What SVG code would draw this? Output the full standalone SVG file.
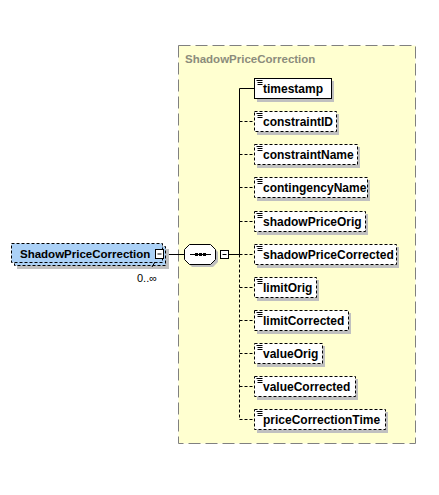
<svg xmlns="http://www.w3.org/2000/svg" width="439" height="495" viewBox="0 0 439 495">
<style>
text{font-family:"Liberation Sans",Arial,sans-serif;}
.lbl{font-size:12px;font-weight:bold;fill:#000;}
.main{font-size:11.5px;font-weight:bold;fill:#000;}
.ttl{font-size:11.5px;font-weight:bold;fill:#8c8c7c;}
.el{fill:#fff;stroke:#000;stroke-width:1;}
.opt{stroke-dasharray:3,2;}
.sh{fill:#c0c0c0;}
.ln{stroke:#000;stroke-width:1;fill:none;}
.dl{stroke:#000;stroke-width:1;fill:none;stroke-dasharray:3,2;}
.ic{stroke:#000;stroke-width:1;}
</style>
<defs>
<g id="icon"><rect x="0" y="0" width="8" height="7" fill="#fff"/><path d="M1.5 1.5h6M2.5 3.5h5M2.5 5.5h5" class="ic"/></g>
</defs>
<rect width="439" height="495" fill="#fff"/>
<g id="complexType">
<rect x="178.5" y="45.5" width="237" height="398" fill="#ffffd0" stroke="#808080" stroke-dasharray="12,5"/>
<text class="ttl" x="185" y="63">ShadowPriceCorrection</text>
</g>
<g id="connectors">
<path class="ln" d="M163 254.5H184M229 254.5H239.5M239.5 88.5V254.5M239.5 88.5H254"/>
<path class="dl" d="M239.5 254.5V419.5M239.5 121.5H254M239.5 154.5H254M239.5 187.5H254M239.5 221.5H254M239.5 254.5H254M239.5 287.5H254M239.5 320.5H254M239.5 353.5H254M239.5 386.5H254M239.5 419.5H254"/>
</g>
<g id="ShadowPriceCorrection">
<rect x="17" y="249" width="152" height="20" class="sh"/>
<rect x="14.5" y="246.5" width="151" height="19" fill="#abd1f7" stroke="#000" class="opt"/>
<rect x="11.5" y="243.5" width="151" height="19" fill="#abd1f7" stroke="#000" class="opt"/>
<path d="M152 267l3-5" class="ln"/>
<text class="main" x="20" y="258">ShadowPriceCorrection</text>
<rect x="155.5" y="249.5" width="8" height="9" fill="#fff" stroke="#000"/>
<path d="M157.5 254h4" class="ln"/>
<text x="137" y="282" font-size="11" fill="#000">0..∞</text>
</g>
<g id="sequence">
<path d="M192 247h21l5 5v10l-5 5h-21l-5-5v-10z" class="sh"/>
<path d="M189.5 244.5h21l5 5v10l-5 5h-21l-5-5v-10z" fill="#fff" stroke="#000"/>
<path d="M190 254.5h21" class="ln"/>
<rect x="195" y="253" width="3" height="3" fill="#000"/>
<rect x="199" y="253" width="3" height="3" fill="#000"/>
<rect x="203" y="253" width="3" height="3" fill="#000"/>
<rect x="220.5" y="250.5" width="8" height="8" fill="#fff" stroke="#000"/>
<path d="M222.5 254.5h4" class="ln"/>
</g>
<g id="timestamp">
<rect x="257" y="81" width="77" height="21" class="sh"/>
<rect x="254.5" y="78.5" width="77" height="20" class="el"/>
<use href="#icon" x="255" y="79"/>
<text class="lbl" x="263" y="93">timestamp</text>
</g>
<g id="constraintID">
<rect x="257" y="114" width="82" height="21" class="sh"/>
<rect x="254.5" y="111.5" width="82" height="20" class="el opt"/>
<use href="#icon" x="255" y="112"/>
<text class="lbl" x="263" y="126">constraintID</text>
</g>
<g id="constraintName">
<rect x="257" y="147" width="103" height="21" class="sh"/>
<rect x="254.5" y="144.5" width="103" height="20" class="el opt"/>
<use href="#icon" x="255" y="145"/>
<text class="lbl" x="263" y="159">constraintName</text>
</g>
<g id="contingencyName">
<rect x="257" y="180" width="113" height="21" class="sh"/>
<rect x="254.5" y="177.5" width="113" height="20" class="el opt"/>
<use href="#icon" x="255" y="178"/>
<text class="lbl" x="263" y="192">contingencyName</text>
</g>
<g id="shadowPriceOrig">
<rect x="257" y="214" width="111" height="21" class="sh"/>
<rect x="254.5" y="211.5" width="111" height="20" class="el opt"/>
<use href="#icon" x="255" y="212"/>
<text class="lbl" x="263" y="226">shadowPriceOrig</text>
</g>
<g id="shadowPriceCorrected">
<rect x="257" y="247" width="142" height="21" class="sh"/>
<rect x="254.5" y="244.5" width="142" height="20" class="el opt"/>
<use href="#icon" x="255" y="245"/>
<text class="lbl" x="263" y="259">shadowPriceCorrected</text>
</g>
<g id="limitOrig">
<rect x="257" y="280" width="62" height="21" class="sh"/>
<rect x="254.5" y="277.5" width="62" height="20" class="el opt"/>
<use href="#icon" x="255" y="278"/>
<text class="lbl" x="263" y="292">limitOrig</text>
</g>
<g id="limitCorrected">
<rect x="257" y="313" width="94" height="21" class="sh"/>
<rect x="254.5" y="310.5" width="94" height="20" class="el opt"/>
<use href="#icon" x="255" y="311"/>
<text class="lbl" x="263" y="325">limitCorrected</text>
</g>
<g id="valueOrig">
<rect x="257" y="346" width="68" height="21" class="sh"/>
<rect x="254.5" y="343.5" width="68" height="20" class="el opt"/>
<use href="#icon" x="255" y="344"/>
<text class="lbl" x="263" y="358">valueOrig</text>
</g>
<g id="valueCorrected">
<rect x="257" y="379" width="101" height="21" class="sh"/>
<rect x="254.5" y="376.5" width="101" height="20" class="el opt"/>
<use href="#icon" x="255" y="377"/>
<text class="lbl" x="263" y="391">valueCorrected</text>
</g>
<g id="priceCorrectionTime">
<rect x="257" y="412" width="131" height="21" class="sh"/>
<rect x="254.5" y="409.5" width="131" height="20" class="el opt"/>
<use href="#icon" x="255" y="410"/>
<text class="lbl" x="263" y="424">priceCorrectionTime</text>
</g>
</svg>
